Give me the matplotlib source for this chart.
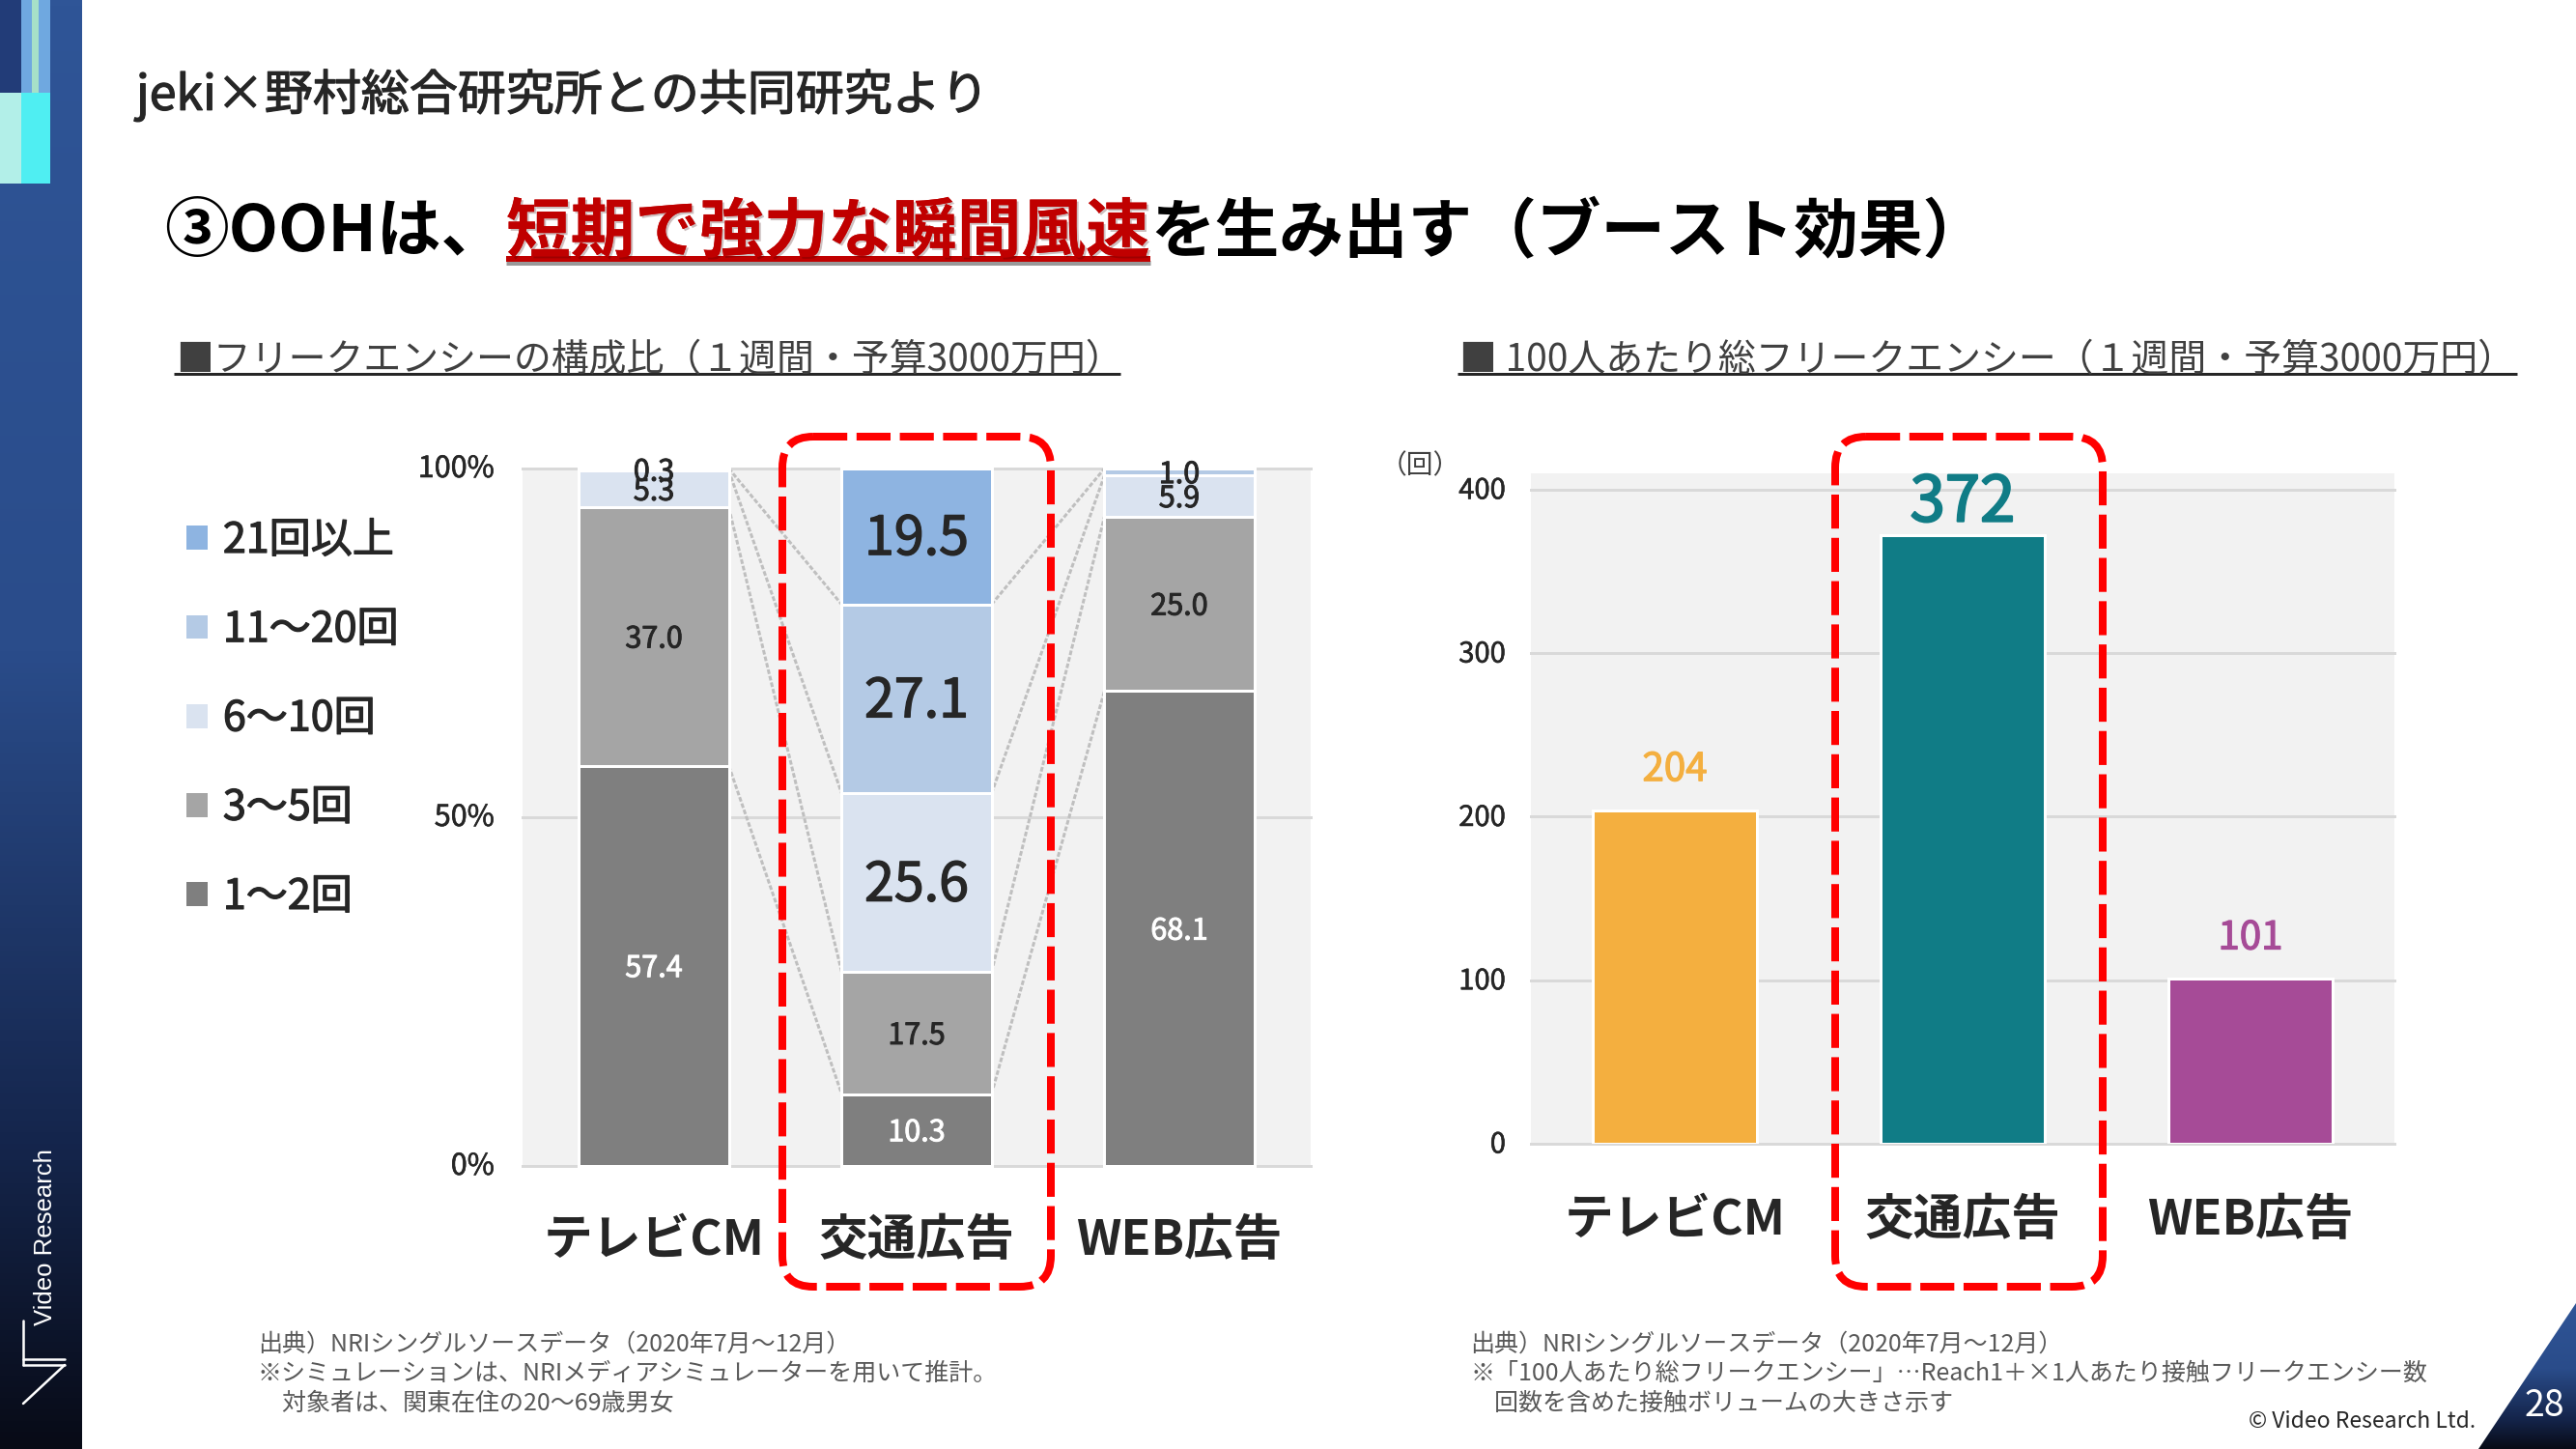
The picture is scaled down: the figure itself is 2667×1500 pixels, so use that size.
"""Slide recreation: frequency mix and total frequency per 100 people by media."""

import matplotlib
matplotlib.use("Agg")

import matplotlib.patheffects as pe
import matplotlib.pyplot as plt
import numpy as np
from matplotlib.colors import LinearSegmentedColormap
from matplotlib.patches import FancyBboxPatch, Patch, Polygon, Rectangle
from matplotlib.transforms import ScaledTranslation

plt.rcParams["font.family"] = ["Noto Sans CJK JP", "DejaVu Sans"]

DPI = 100
W, H = 2667, 1500

# Data
media = ["テレビCM", "交通広告", "WEB広告"]
freq_labels = ["1～2回", "3～5回", "6～10回", "11～20回", "21回以上"]
freq_colors = ["#7F7F7F", "#A5A5A5", "#DAE3F0", "#B4CAE5", "#8EB4E1"]
share_1_2 = [57.4, 10.3, 68.1]
share_3_5 = [37.0, 17.5, 25.0]
share_6_10 = [5.3, 25.6, 5.9]
share_11_20 = [0.3, 27.1, 1.0]
share_21 = [0.0, 19.5, 0.0]
shares = [share_1_2, share_3_5, share_6_10, share_11_20, share_21]
share_ticks = [0, 50, 100]
share_tick_labels = ["0%", "50%", "100%"]

total_freq = [204, 372, 101]
total_colors = ["#F4AF3F", "#107C86", "#A64B97"]
total_ticks = [0, 100, 200, 300, 400]

DARK = "#262626"
GRID = "#D9D9D9"
PANEL = "#F2F2F2"
RED = "#FF0000"


def px(value):
    """Pixels to points at the figure dpi."""
    return value * 72 / DPI


def heavier(color, width=0.7):
    """Fake a medium weight, the CJK family only has regular and bold here."""
    return [pe.withStroke(linewidth=width, foreground=color)]


def axes_from_pixels(fig, left, top, right, bottom):
    return fig.add_axes([left / W, 1 - bottom / H, (right - left) / W, (bottom - top) / H])


def style_chart_axes(ax, pad_x, pad_y, y_size, lift):
    ax.set_facecolor(PANEL)
    for spine in ax.spines.values():
        spine.set_visible(False)
    ax.set_axisbelow(True)
    ax.grid(axis="y", color=GRID, linewidth=px(3))
    for line in ax.get_ygridlines():
        line.set_clip_on(False)
    ax.tick_params(axis="both", length=0)
    ax.tick_params(axis="x", pad=px(pad_x), labelsize=36.5, labelcolor=DARK)
    ax.tick_params(axis="y", pad=px(pad_y), labelsize=y_size, labelcolor=DARK)
    ax.set_xlim(-0.5, 2.5)
    ax.set_xticks(range(len(media)), media, fontweight="bold")
    shift = ScaledTranslation(0, px(lift) / 72, fig.dpi_scale_trans)
    for label in ax.get_yticklabels():
        label.set_transform(label.get_transform() + shift)
        label.set_path_effects(heavier(DARK, 0.4))


fig = plt.figure(figsize=(W / DPI, H / DPI), dpi=DPI, facecolor="white")

# Left chart: stacked composition
ax1 = axes_from_pixels(fig, 541, 485, 1357, 1207)
ax1.set_ylim(0, 100)
ax1.set_yticks(share_ticks, share_tick_labels)
style_chart_axes(ax1, 52, 29, 22, 3)

x_pos = np.arange(len(media))
bar_width = 0.57
bottoms = np.zeros(len(media))
for values, color, label in zip(shares, freq_colors, freq_labels):
    values = np.array(values)
    tops = bottoms + values
    # series lines between neighbouring columns
    half = bar_width / 2
    for i in range(len(media) - 1):
        if tops[i] == 100 and tops[i + 1] == 100:
            continue
        ax1.plot(
            [x_pos[i] + half, x_pos[i + 1] - half],
            [tops[i], tops[i + 1]],
            color="#BFBFBF",
            linewidth=px(3),
            linestyle=(0, (1.6, 0.7)),
            zorder=1.5,
        )
    bars = ax1.bar(
        x_pos, values, bar_width, bottom=bottoms, color=color,
        edgecolor="white", linewidth=px(3), label=label, zorder=2,
    )
    for bar, i in zip(bars, x_pos):
        bar.set_clip_on(False)
        if values[i] == 0:
            continue
        is_big = i == 1 and label not in ("1～2回", "3～5回")
        text_color = "white" if label == "1～2回" else DARK
        ax1.annotate(
            f"{values[i]:.1f}", (x_pos[i], bottoms[i] + values[i] / 2),
            xytext=(0, px(-3)), textcoords="offset points",
            ha="center", va="center", fontsize=40 if is_big else 22,
            color=text_color, zorder=3,
            path_effects=heavier(text_color, 1.0 if is_big else 0.7),
        )
    bottoms = tops

# Right chart: total frequency per 100 people
ax2 = axes_from_pixels(fig, 1585, 490, 2479, 1184)
ax2.set_ylim(0, 410)
ax2.set_yticks(total_ticks)
style_chart_axes(ax2, 54, 26, 21, 2)
bars2 = ax2.bar(x_pos, total_freq, bar_width, color=total_colors,
                edgecolor="white", linewidth=px(3), zorder=2)
for bar, value, color in zip(bars2, total_freq, total_colors):
    big = value == max(total_freq)
    ax2.annotate(
        str(value), (bar.get_x() + bar.get_width() / 2, value),
        xytext=(0, px(33 if big else 42)), textcoords="offset points",
        ha="center", va="center", fontsize=47 if big else 29, color=color,
        path_effects=heavier(color, 1.6 if big else 0.9),
    )

# Overlay in pixel coordinates for all the slide furniture
ov = fig.add_axes([0, 0, 1, 1], zorder=10)
ov.patch.set_alpha(0)
ov.axis("off")

side_cmap = LinearSegmentedColormap.from_list(
    "side", [(0, "#2F5597"), (0.45, "#2A4C8A"), (0.8, "#14244A"), (1, "#080B16")]
)
gradient = np.linspace(0, 1, 256).reshape(-1, 1)
ov.imshow(gradient, cmap=side_cmap, extent=(0, 85, H, 0), aspect="auto")
corner = ov.imshow(gradient[:], cmap=side_cmap, extent=(2560, W, H, 1349), aspect="auto")
corner.set_clip_path(Polygon([(2566, H), (W, 1349), (W, H)], transform=ov.transData))

for x0, x1, y0, y1, color in [
    (0, 22, 0, 96, "#223C78"),
    (22, 33, 0, 96, "#6FA8E0"),
    (33, 40, 0, 96, "#A6E0C8"),
    (40, 52, 0, 96, "#6FA8E0"),
    (0, 22, 96, 190, "#B2EFE8"),
    (22, 52, 96, 190, "#4FEEF2"),
]:
    ov.add_patch(Rectangle((x0, y0), x1 - x0, y1 - y0, color=color, linewidth=0))

for xs, ys in [
    ([24, 24], [1367, 1413]),
    ([24, 67], [1407, 1407]),
    ([24, 67], [1413, 1413]),
    ([67, 24], [1413, 1453]),
]:
    ov.plot(xs, ys, color="white", linewidth=px(2.5), solid_capstyle="round")
ov.text(47, 1281, "Video Research", color="white", rotation=90, ha="center", va="center",
        fontsize=18.5, family=["Liberation Sans"])

# Headings
ov.text(141, 99, "jeki×野村総合研究所との共同研究より", fontsize=36, color=DARK, va="center",
        path_effects=heavier(DARK, 0.9))
ov.text(170, 241, "③OOHは、", fontsize=48, fontweight="bold", color="black", va="center")
ov.text(524, 241, "短期で強力な瞬間風速", fontsize=48, fontweight="bold", color="#C00000", va="center",
        path_effects=[pe.withSimplePatchShadow(offset=(1.5, -1.5), alpha=0.25), pe.Normal()])
ov.text(1191, 241, "を生み出す（ブースト効果）", fontsize=48, fontweight="bold", color="black", va="center")
ov.plot([524, 1191], [272, 272], color="#999999", linewidth=px(5), solid_capstyle="butt")
ov.plot([524, 1191], [268, 268], color="#C00000", linewidth=px(6), solid_capstyle="butt")

ov.text(182, 373, "■フリークエンシーの構成比（１週間・予算3000万円）", fontsize=28, color="#404040", va="center")
ov.plot([180, 1160], [387, 387], color=DARK, linewidth=px(3), solid_capstyle="butt")
ov.text(1511, 373, "■ 100人あたり総フリークエンシー（１週間・予算3000万円）", fontsize=28, color="#404040", va="center")
ov.plot([1509, 2606], [387, 387], color=DARK, linewidth=px(3), solid_capstyle="butt")
ov.text(1470, 482, "（回）", fontsize=20, color="#404040", ha="center", va="center")

# Highlight boxes around the transit column
for x0, x1 in [(810, 1088), (1900, 2177)]:
    ov.add_patch(FancyBboxPatch(
        (x0, 452), x1 - x0, 880,
        boxstyle="round,pad=0,rounding_size=32",
        fill=False, edgecolor=RED, linewidth=px(8),
        linestyle=(0, (4.4, 1.2)), capstyle="butt",
    ))

# Legend, top series first
handles = [Patch(facecolor=c, edgecolor="none") for c in freq_colors[::-1]]
legend = ov.legend(
    handles, freq_labels[::-1], loc="upper left", bbox_to_anchor=(193, 538),
    bbox_transform=ov.transData, frameon=False, fontsize=31, labelcolor=DARK,
    borderpad=0, borderaxespad=0, handlelength=0.51, handleheight=0.51,
    handletextpad=0.37, labelspacing=1.12,
)
for text in legend.get_texts():
    text.set_path_effects(heavier(DARK, 0.9))

# Notes
left_notes = [
    "出典）NRIシングルソースデータ（2020年7月～12月）",
    "※シミュレーションは、NRIメディアシミュレーターを用いて推計。",
    "　対象者は、関東在住の20～69歳男女",
]
right_notes = [
    "出典）NRIシングルソースデータ（2020年7月～12月）",
    "※「100人あたり総フリークエンシー」…Reach1＋×1人あたり接触フリークエンシー数",
    "　回数を含めた接触ボリュームの大きさ示す",
]
for x0, notes in [(267, left_notes), (1522, right_notes)]:
    for y0, note in zip([1392, 1422, 1453], notes):
        ov.text(x0, y0, note, fontsize=18, color="#595959", va="center")

ov.text(2563, 1472, "© Video Research Ltd.", fontsize=16.5, color=DARK, ha="right", va="center")
ov.text(2634, 1456, "28", fontsize=27, color="white", ha="center", va="center")

ov.set_xlim(0, W)
ov.set_ylim(H, 0)

fig.savefig("out.png", dpi=DPI)
plt.close(fig)
